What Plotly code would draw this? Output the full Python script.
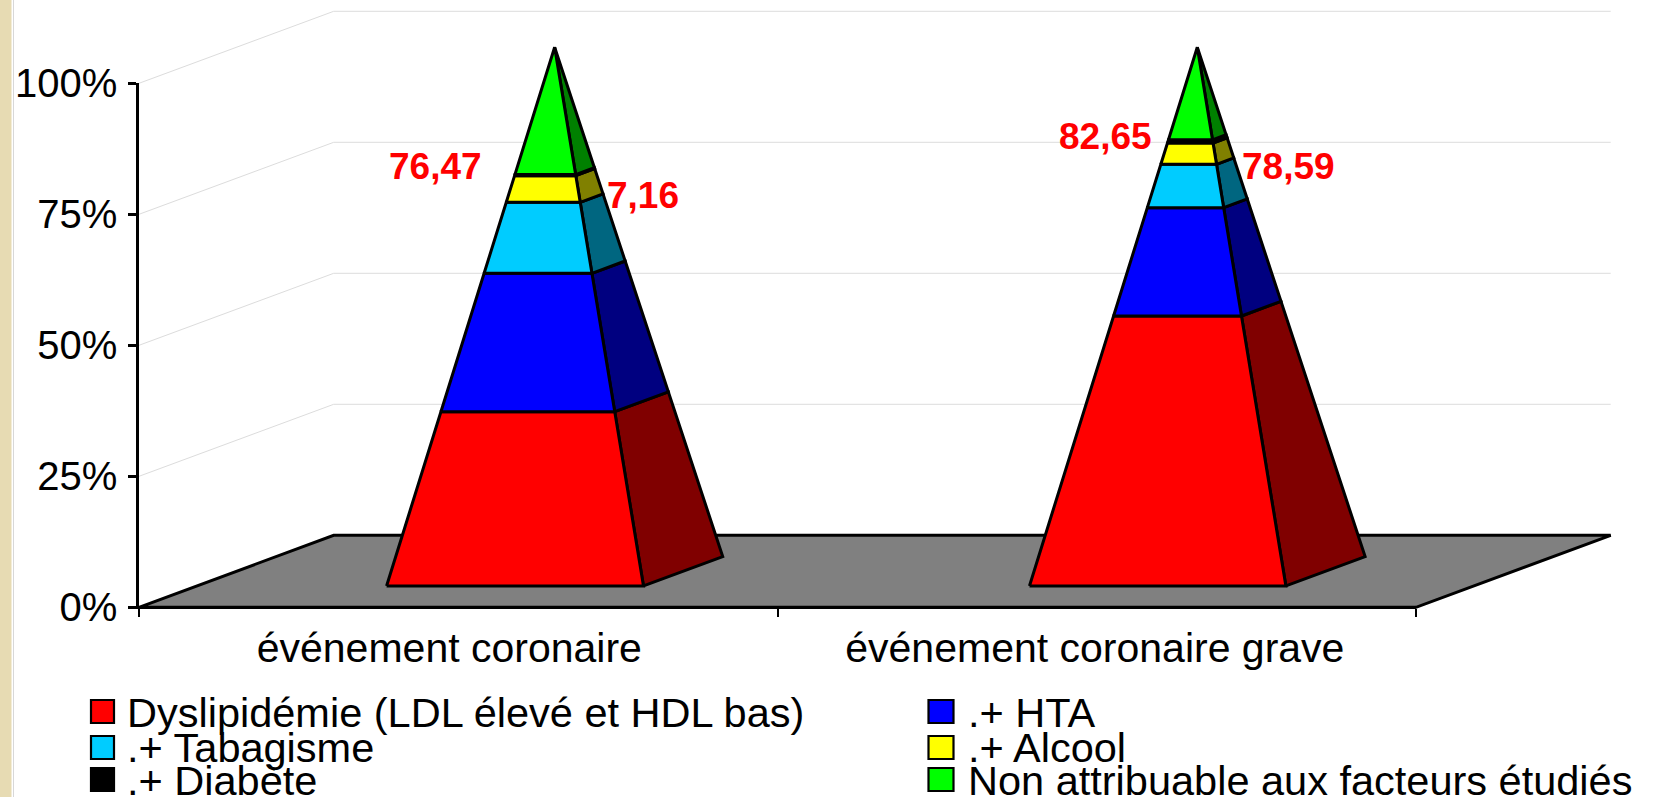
import plotly.graph_objects as go

# ---- data ----
categories = ["événement coronaire", "événement coronaire grave"]
series_names = ["Dyslipidémie (LDL élevé et HDL bas)", ".+ HTA", ".+ Tabagisme", ".+ Alcool", ".+ Diabète",
                "Non attribuable aux facteurs étudiés"]
coronaire = [32.35, 25.69, 13.18, 4.95, 0.2, 23.63]
coronaire_grave = [50.12, 20.11, 8.05, 3.95, 0.60, 17.17]
front_colors = ["#FF0000", "#0000FF", "#00CCFF", "#FFFF00", "#000000", "#00FF00"]
side_colors = ["#800000", "#000080", "#006680", "#808000", "#000000", "#008000"]
y_ticks = [0, 25, 50, 75, 100]
value_labels = ["76,47", "7,16", "82,65", "78,59"]

# ---- geometry of the page and of the oblique projection ----
W, H = 1661, 797
X0, X2, Y0, Y100 = 139.0, 1416.0, 607.3, 83.3      # axes in page pixels
PX_PER_CAT = (X2 - X0) / 2
PX_PER_PCT = (Y0 - Y100) / 100
DEPTH_X = 194.7 / PX_PER_CAT      # shift of the back wall in category units
DEPTH_Y = 72.0 / PX_PER_PCT       # shift of the back wall in percent units
centres = [0.4985, 1.505]
half_w = [0.2012, 0.2008]
half_d = 0.2035
LW = 3


def project(x, d, z):
    return x + d * DEPTH_X, z + d * DEPTH_Y


def poly(points):
    xs, ys = zip(*[project(*p) for p in points])
    return list(xs) + [xs[0]], list(ys) + [ys[0]]


fig = go.Figure()

# invisible trace that keeps the visible axes (x, y) alive
fig.add_trace(go.Scatter(x=[0, 2], y=[0, 100], mode="lines", line=dict(color="rgba(0,0,0,0)", width=0),
                         showlegend=False, hoverinfo="skip", xaxis="x", yaxis="y"))


def add_poly(points, fill, line_color="#000000", width=LW):
    xs, ys = poly(points)
    fig.add_trace(go.Scatter(x=xs, y=ys, mode="lines", fill="toself", fillcolor=fill,
                             line=dict(color=line_color, width=width, simplify=False),
                             showlegend=False, hoverinfo="skip", xaxis="x2", yaxis="y2"))


# back-wall grid lines
for t in y_ticks[1:]:
    xs, ys = zip(project(0, 0, t), project(0, 1, t), project(2, 1, t))
    fig.add_trace(go.Scatter(x=xs, y=ys, mode="lines", line=dict(color="#DCDCDC", width=1),
                             showlegend=False, hoverinfo="skip", xaxis="x2", yaxis="y2"))

# floor
add_poly([(0, 0, 0), (2, 0, 0), (2, 1, 0), (0, 1, 0)], "#808080")

# pyramids
for c, hw, vals in zip(centres, half_w, [coronaire, coronaire_grave]):
    low = 0.0
    for v, fc, sc in zip(vals, front_colors, side_colors):
        high = low + v

        def corners(z):
            f = 1 - z / 100
            return ((c - hw * f, 0.5 - half_d * f, z),
                    (c + hw * f, 0.5 - half_d * f, z),
                    (c + hw * f, 0.5 + half_d * f, z))

        fl0, fr0, br0 = corners(low)
        fl1, fr1, br1 = corners(high)
        add_poly([fr0, br0, br1, fr1], sc)
        add_poly([fl0, fr0, fr1, fl1], fc)
        low = high


def paper_x(px):
    return px / W


def paper_y(py):
    return 1 - py / H


# value labels
label_px = [(435, 166), (643, 196), (1105.6, 136.5), (1288, 166.6)]
annotations = [dict(x=paper_x(px), y=paper_y(py), xref="paper", yref="paper", text=t, showarrow=False,
                    xanchor="center", yanchor="middle",
                    font=dict(family="Liberation Sans", size=37, color="#FF0000", weight="bold"))
               for t, (px, py) in zip(value_labels, label_px)]

# hand-built legend, because the rows overlap more tightly than a native legend allows
rows = [712, 747.5, 780]
swatch_tops = [700, 736, 768]
col_swatch = [(91, 114, 124.5), (928.5, 953.5, 965.5)]
legend_slots = [(0, 0), (1, 0), (0, 1), (1, 1), (0, 2), (1, 2)]
shapes = [
    dict(type="rect", xref="paper", yref="paper", x0=0, x1=paper_x(11.5), y0=0, y1=1,
         fillcolor="#E7DBB3", line_width=0, layer="below"),
    dict(type="line", xref="paper", yref="paper", x0=paper_x(13.5), x1=paper_x(13.5), y0=0, y1=1,
         line=dict(color="#D8D8D8", width=1), layer="below"),
]
for name, col, (ci, ri) in zip(series_names, front_colors, legend_slots):
    sx0, sx1, tx = col_swatch[ci]
    top = swatch_tops[ri]
    shapes.append(dict(type="rect", xref="paper", yref="paper",
                       x0=paper_x(sx0), x1=paper_x(sx1), y0=paper_y(top + 23), y1=paper_y(top),
                       fillcolor=col, line=dict(color="#000000", width=2.2)))
    annotations.append(dict(x=paper_x(tx), y=paper_y(rows[ri]), xref="paper", yref="paper",
                            text=name, showarrow=False, xanchor="left", yanchor="middle",
                            font=dict(family="Liberation Sans", size=41.5, color="#000000")))

fig.update_layout(
    width=W, height=H, autosize=False,
    margin=dict(l=0, r=0, t=0, b=0, pad=0),
    paper_bgcolor="#FFFFFF", plot_bgcolor="rgba(0,0,0,0)",
    showlegend=False, shapes=shapes, annotations=annotations,
    font=dict(family="Liberation Sans", color="#000000"),
    xaxis=dict(domain=[X0 / W, X2 / W], range=[0, 2], tickmode="array", tickvals=[0.486, 1.497],
               ticktext=categories, ticks="", showgrid=False, zeroline=False, showline=True,
               linecolor="#000000", linewidth=2, anchor="y",
               tickfont=dict(size=41), ticklabelstandoff=3, automargin=False,
               minor=dict(tickmode="array", tickvals=[0, 1, 2], ticks="outside", ticklen=8,
                          tickwidth=2, tickcolor="#000000", showgrid=False)),
    yaxis=dict(domain=[1 - Y0 / H, 1 - Y100 / H], range=[0, 100], tickmode="array", tickvals=y_ticks,
               ticktext=[f"{t}%" for t in y_ticks], anchor="x",
               ticks="outside", ticklen=8, tickwidth=2.5, tickcolor="#000000",
               showgrid=False, zeroline=False, showline=True, linecolor="#000000", linewidth=2.5,
               tickfont=dict(size=40), ticklabelstandoff=3, automargin=False),
    xaxis2=dict(domain=[0, 1], range=[-X0 / PX_PER_CAT, (W - X0) / PX_PER_CAT], visible=False, anchor="y2"),
    yaxis2=dict(domain=[0, 1], range=[(Y0 - H) / PX_PER_PCT, Y0 / PX_PER_PCT], visible=False, anchor="x2"),
)

fig.write_html("out.html", config={"displayModeBar": False}, post_script="document.body.style.margin='0';")
